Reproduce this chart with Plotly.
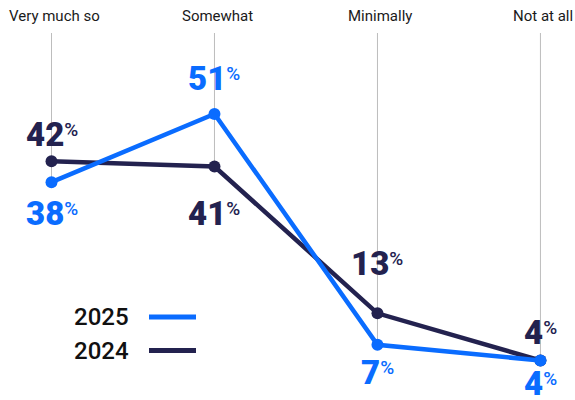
import plotly.graph_objects as go

categories = ["Very much so", "Somewhat", "Minimally", "Not at all"]
years = ["2025", "2024"]
v2025 = [38, 51, 7, 4]
v2024 = [42, 41, 13, 4]

BLUE = "#0a6cff"
NAVY = "#23224f"
GRID = "#bdbdbd"

# label placement (pixel shifts from each point), style only
off2025 = [31, -36, 28, 23]
off2024 = [-27, 47, -50, -28]

W, H = 575, 400
YMIN, YMAX = -3.53, 72.74
XMIN, XMAX = -0.316, 3.212
xs = list(range(len(categories)))

fig = go.Figure()

# vertical guide lines from header down to the lower point
ytop = YMAX - 33 / H * (YMAX - YMIN)
for i in xs:
    fig.add_shape(type="line", xref="x", yref="y", x0=i, x1=i,
                  y0=min(v2025[i], v2024[i]), y1=ytop,
                  line=dict(color=GRID, width=1), layer="below")
    fig.add_annotation(x=i, y=1 - 16 / H, xref="x", yref="paper",
                       text=categories[i], showarrow=False, xshift=3,
                       font=dict(family="Roboto", size=15, color="#1a1a1a"),
                       xanchor="center", yanchor="middle")

fig.add_trace(go.Scatter(x=xs, y=v2024, mode="lines+markers", name=years[1],
                         line=dict(color=NAVY, width=4.5),
                         marker=dict(color=NAVY, size=12)))
fig.add_trace(go.Scatter(x=xs, y=v2025, mode="lines+markers", name=years[0],
                         line=dict(color=BLUE, width=4.5),
                         marker=dict(color=BLUE, size=12)))

def lab(v):
    return ("<span style='font-size:33px'>%d</span>"
            "<sup><span style='font-size:19px;font-weight:500'>%%</span></sup>" % v)

for vals, offs, col in [(v2025, off2025, BLUE), (v2024, off2024, NAVY)]:
    for i in xs:
        fig.add_annotation(x=i, y=vals[i], text=lab(vals[i]), showarrow=False,
                           yshift=-offs[i], xshift=0,
                           font=dict(family="Roboto", size=24, color=col, weight=900),
                           xanchor="center", yanchor="middle")

# legend (text left of line)
for name, col, py in [(years[0], BLUE, 317), (years[1], NAVY, 350.5)]:
    fig.add_annotation(x=131 / W, y=1 - py / H, xref="paper", yref="paper",
                       text=name, showarrow=False, xanchor="right", yanchor="middle",
                       font=dict(family="Roboto", size=24, color="#111", weight=500))
    fig.add_shape(type="line", xref="paper", yref="paper",
                  x0=149 / W, x1=196 / W, y0=1 - py / H, y1=1 - py / H,
                  line=dict(color=col, width=5))

fig.update_layout(width=W, height=H, margin=dict(l=0, r=0, t=0, b=0),
                  paper_bgcolor="white", plot_bgcolor="white", showlegend=False,
                  xaxis=dict(range=[XMIN, XMAX], visible=False, fixedrange=True),
                  yaxis=dict(range=[YMIN, YMAX], visible=False, fixedrange=True))

fig.write_html("out.html")
